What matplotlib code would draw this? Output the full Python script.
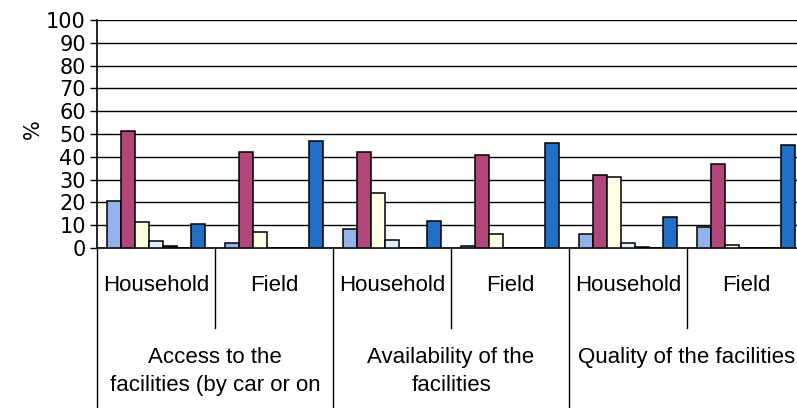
import numpy as np
import matplotlib.pyplot as plt

plt.rcParams['font.family'] = ['Liberation Sans', 'DejaVu Sans']

# sub-groups along the x axis, two per topic
sub_labels = ["Household", "Field", "Household", "Field", "Household", "Field"]
topic_labels = ["Access to the\nfacilities (by car or on",
                "Availability of the\nfacilities",
                "Quality of the facilities"]

# one value per sub-group for each of the seven series (%)
s1 = [20.7, 2.0, 8.3, 1.0, 6.0, 9.0]
s2 = [51.5, 42.0, 42.0, 41.0, 32.0, 37.0]
s3 = [11.3, 7.2, 24.3, 6.3, 31.0, 1.5]
s4 = [3.1, 0.0, 3.5, 0.0, 2.0, 0.0]
s5 = [0.7, 0.0, 0.0, 0.0, 0.5, 0.0]
s6 = [0.0, 0.0, 0.0, 0.0, 0.0, 0.0]
s7 = [10.5, 47.0, 11.7, 46.0, 13.5, 45.0]

series = [s1, s2, s3, s4, s5, s6, s7]
colors = ["#94b3ea", "#b0467a", "#ffffe4", "#def0ff", "#4a1a44", "#ff8080", "#1f70c6"]

W, H = 797, 408
fig = plt.figure(figsize=(W / 100, H / 100), dpi=100)
# plot area runs slightly past the right edge of the figure
ax = fig.add_axes([97 / W, (H - 248) / H, (805 - 97) / W, 228 / H])

n = len(series)
bw = 0.118
x = np.arange(len(sub_labels)) + 0.5
for i, (vals, c) in enumerate(zip(series, colors)):
    ax.bar(x + (i - (n - 1) / 2) * bw, vals, width=bw, color=c,
           edgecolor="black", linewidth=1.1, zorder=3)

ax.set_xlim(0, len(sub_labels))
ax.set_ylim(0, 100)
ax.set_yticks(np.arange(0, 101, 10))
ax.yaxis.grid(True, color="black", linewidth=1.0)
ax.set_axisbelow(True)
ax.tick_params(axis="y", direction="out", length=5, width=1, pad=3)
for t in ax.get_yticklabels():
    t.set_fontfamily("DejaVu Sans")
    t.set_fontsize(15)
ax.set_xticks([])
ax.set_ylabel("%", fontsize=15, fontfamily="DejaVu Sans")
ax.yaxis.set_label_coords(-0.076, 0.52)

for s in ["top", "right"]:
    ax.spines[s].set_visible(False)
for s in ["left", "bottom"]:
    ax.spines[s].set_linewidth(1.2)

tr = ax.get_xaxis_transform()
# sub-group labels and dividers below the axis
for xi, lab in zip(x, sub_labels):
    ax.text(xi, -0.165, lab, transform=tr, ha="center", va="center", fontsize=16)
for k in range(len(sub_labels) + 1):
    bottom = -0.35 if k % 2 else -0.7
    ax.plot([k, k], [0, bottom], transform=tr, color="black", linewidth=1.0, clip_on=False)

# topic labels, one per pair of sub-groups
for j, lab in enumerate(topic_labels):
    ax.text(2 * j + 1, -0.435, lab, transform=tr, ha="center", va="top",
            fontsize=16, linespacing=1.45)

fig.savefig("out.png", dpi=100)
